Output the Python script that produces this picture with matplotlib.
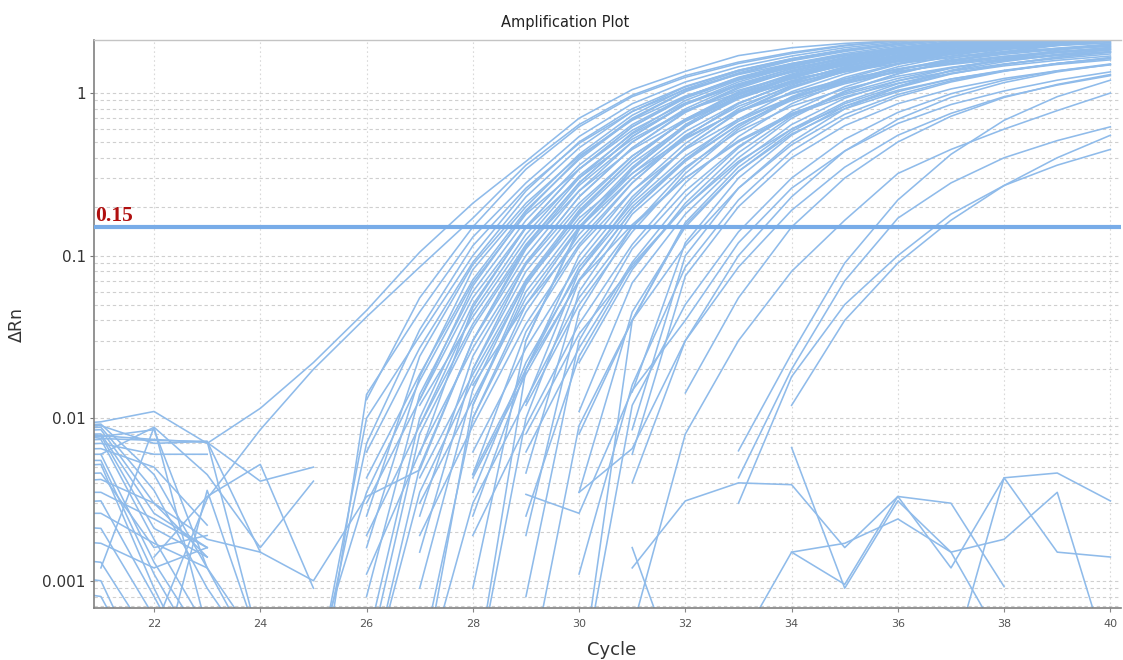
import matplotlib
matplotlib.use("Agg")
import matplotlib.pyplot as plt
from matplotlib.ticker import FixedLocator, NullFormatter, FixedFormatter
import numpy as np

# ---- data: delta Rn per cycle, each well given as (first cycle, values) ----
THRESHOLD = 0.15

AMP_START = [20, 22, 25, 25, 26, 26, 26, 25, 27, 26, 26, 27, 26, 26, 28, 26,
             27, 28, 27, 26, 28, 27, 27, 29, 27, 28, 28, 28, 29, 28, 29, 27,
             29, 28, 29, 29, 30, 31, 30, 31, 30, 31, 20, 30, 31,
             26, 25, 26, 27, 26, 27, 27, 28, 28, 28, 29, 29, 30, 30,
             27, 27, 28, 28, 29, 28, 26, 29, 28, 30]
AMP_VALUES = [
    [0.009, 0.0095, 0.011, 0.007, 0.0115, 0.022, 0.046, 0.105, 0.21, 0.38, 0.7, 1.05, 1.36, 1.7, 1.9, 2.02, 2.1, 2.2, 2.3, 2.4, 2.5],
    [0.0005, 0.0032, 0.0085, 0.02, 0.042, 0.085, 0.17, 0.36, 0.64, 0.97, 1.28, 1.55, 1.78, 1.97, 2.1, 2.2, 2.3, 2.35, 2.4],
    [0.0001, 0.014, 0.045, 0.13, 0.28, 0.54, 0.86, 1.17, 1.45, 1.69, 1.9, 2.06, 2.21, 2.32, 2.43, 2.5],
    [0.0002, 0.007, 0.035, 0.115, 0.26, 0.49, 0.77, 1.05, 1.3, 1.52, 1.71, 1.85, 1.98, 2.08, 2.18, 2.25],
    [0.0062, 0.027, 0.091, 0.23, 0.46, 0.77, 1.09, 1.38, 1.63, 1.85, 2.02, 2.17, 2.3, 2.4, 2.45],
    [0.0025, 0.024, 0.088, 0.21, 0.41, 0.68, 0.96, 1.21, 1.43, 1.62, 1.78, 1.9, 2.0, 2.08, 2.15],
    [0.0043, 0.0186, 0.071, 0.19, 0.39, 0.69, 1.02, 1.31, 1.58, 1.8, 1.99, 2.14, 2.28, 2.38, 2.45],
    [0.0003, 0.0035, 0.017, 0.068, 0.18, 0.34, 0.59, 0.87, 1.11, 1.34, 1.53, 1.69, 1.82, 1.93, 2.02, 2.08],
    [0.013, 0.065, 0.185, 0.4, 0.7, 1.03, 1.33, 1.6, 1.82, 2.0, 2.15, 2.28, 2.38, 2.45],
    [0.003, 0.013, 0.055, 0.15, 0.34, 0.62, 0.95, 1.25, 1.52, 1.75, 1.95, 2.1, 2.25, 2.35, 2.45],
    [0.0004, 0.01, 0.05, 0.148, 0.3, 0.52, 0.78, 1.0, 1.22, 1.4, 1.56, 1.68, 1.8, 1.88, 1.95],
    [0.006, 0.048, 0.15, 0.34, 0.62, 0.93, 1.22, 1.48, 1.7, 1.9, 2.05, 2.18, 2.28, 2.36],
    [0.0019, 0.009, 0.038, 0.117, 0.28, 0.54, 0.86, 1.17, 1.45, 1.69, 1.9, 2.06, 2.21, 2.32, 2.43],
    [0.0003, 0.008, 0.036, 0.113, 0.25, 0.45, 0.69, 0.94, 1.16, 1.35, 1.52, 1.65, 1.77, 1.86, 1.94],
    [0.03, 0.115, 0.28, 0.54, 0.85, 1.14, 1.41, 1.64, 1.84, 2.0, 2.14, 2.25, 2.35],
    [0.0011, 0.0062, 0.027, 0.091, 0.23, 0.46, 0.77, 1.09, 1.38, 1.63, 1.85, 2.02, 2.17, 2.3, 2.4],
    [0.0025, 0.024, 0.088, 0.21, 0.41, 0.67, 0.94, 1.19, 1.4, 1.58, 1.73, 1.85, 1.96, 2.04],
    [0.02, 0.09, 0.23, 0.46, 0.76, 1.07, 1.36, 1.6, 1.82, 1.99, 2.14, 2.27, 2.37],
    [0.0043, 0.0186, 0.071, 0.19, 0.39, 0.69, 1.02, 1.31, 1.58, 1.8, 1.99, 2.14, 2.28, 2.38],
    [0.0002, 0.0035, 0.017, 0.068, 0.17, 0.32, 0.53, 0.77, 0.99, 1.19, 1.36, 1.5, 1.62, 1.71, 1.79],
    [0.012, 0.066, 0.185, 0.39, 0.69, 1.0, 1.29, 1.55, 1.77, 1.95, 2.1, 2.22, 2.33],
    [0.003, 0.013, 0.055, 0.15, 0.34, 0.62, 0.95, 1.25, 1.52, 1.75, 1.95, 2.1, 2.25, 2.35],
    [0.0003, 0.01, 0.05, 0.148, 0.3, 0.52, 0.78, 1.0, 1.22, 1.4, 1.56, 1.68, 1.8, 1.88],
    [0.03, 0.145, 0.34, 0.62, 0.94, 1.23, 1.5, 1.72, 1.92, 2.07, 2.2, 2.3],
    [0.0019, 0.009, 0.038, 0.117, 0.28, 0.54, 0.86, 1.17, 1.45, 1.69, 1.9, 2.06, 2.21, 2.32],
    [0.0045, 0.034, 0.113, 0.25, 0.45, 0.69, 0.94, 1.16, 1.35, 1.52, 1.65, 1.77, 1.86],
    [0.0062, 0.027, 0.091, 0.23, 0.46, 0.77, 1.09, 1.38, 1.63, 1.85, 2.02, 2.17, 2.3],
    [0.0002, 0.02, 0.085, 0.21, 0.41, 0.67, 0.94, 1.19, 1.4, 1.58, 1.73, 1.85, 1.96],
    [0.0126, 0.08, 0.22, 0.46, 0.76, 1.07, 1.36, 1.6, 1.82, 1.99, 2.14, 2.27],
    [0.0043, 0.0186, 0.071, 0.19, 0.39, 0.69, 1.02, 1.31, 1.58, 1.8, 1.99, 2.14, 2.28],
    [0.0046, 0.06, 0.18, 0.35, 0.58, 0.83, 1.06, 1.27, 1.44, 1.58, 1.7, 1.8],
    [0.0002, 0.003, 0.013, 0.055, 0.15, 0.34, 0.62, 0.95, 1.25, 1.52, 1.75, 1.95, 2.1, 2.25],
    [0.0019, 0.045, 0.15, 0.3, 0.51, 0.75, 0.98, 1.19, 1.36, 1.51, 1.63, 1.74],
    [0.0019, 0.009, 0.038, 0.117, 0.28, 0.54, 0.86, 1.17, 1.45, 1.69, 1.9, 2.06, 2.21],
    [0.0062, 0.027, 0.091, 0.23, 0.46, 0.77, 1.09, 1.38, 1.63, 1.85, 2.02, 2.17],
    [0.0025, 0.024, 0.088, 0.2, 0.38, 0.6, 0.83, 1.04, 1.22, 1.37, 1.5, 1.6],
    [0.011, 0.068, 0.18, 0.37, 0.64, 0.93, 1.19, 1.42, 1.62, 1.78, 1.91],
    [0.0145, 0.12, 0.3, 0.55, 0.83, 1.08, 1.31, 1.5, 1.66, 1.79],
    [0.0035, 0.045, 0.15, 0.33, 0.58, 0.86, 1.1, 1.32, 1.5, 1.66, 1.78],
    [0.0085, 0.1, 0.26, 0.48, 0.74, 0.98, 1.19, 1.37, 1.52, 1.65],
    [0.0011, 0.016, 0.085, 0.22, 0.44, 0.7, 0.95, 1.17, 1.36, 1.52, 1.65],
    [0.006, 0.075, 0.2, 0.4, 0.63, 0.86, 1.06, 1.23, 1.37, 1.49],
    [0.0085, 0.0075, 0.0073, 0.0072, 0.0015, 0.001, 0.0033, 0.0048, 0.03, 0.11, 0.27, 0.5, 0.78, 1.04, 1.28, 1.48, 1.64, 1.77, 1.88, 1.97, 2.04],
    [0.0002, 0.012, 0.05, 0.14, 0.3, 0.52, 0.76, 0.99, 1.2, 1.37, 1.51],
    [0.004, 0.03, 0.1, 0.23, 0.44, 0.69, 0.94, 1.16, 1.35, 1.5],
    [0.013, 0.055, 0.15, 0.34, 0.62, 0.95, 1.25, 1.52, 1.75, 1.95, 2.1, 2.25, 2.35, 2.45, 2.5],
    [0.0002, 0.01, 0.032, 0.1, 0.25, 0.5, 0.8, 1.1, 1.38, 1.62, 1.83, 2.0, 2.14, 2.26, 2.36, 2.42],
    [0.0008, 0.014, 0.06, 0.165, 0.36, 0.64, 0.95, 1.24, 1.5, 1.72, 1.9, 2.05, 2.18, 2.28, 2.36],
    [0.009, 0.045, 0.135, 0.31, 0.56, 0.85, 1.12, 1.36, 1.57, 1.75, 1.9, 2.02, 2.12, 2.2],
    [0.0002, 0.005, 0.03, 0.1, 0.25, 0.5, 0.8, 1.12, 1.41, 1.66, 1.88, 2.05, 2.2, 2.32, 2.42],
    [0.0015, 0.02, 0.08, 0.2, 0.41, 0.68, 0.98, 1.25, 1.48, 1.68, 1.84, 1.98, 2.09, 2.18],
    [0.0002, 0.012, 0.06, 0.16, 0.35, 0.64, 0.97, 1.27, 1.54, 1.77, 1.96, 2.12, 2.25, 2.35],
    [0.01, 0.045, 0.135, 0.3, 0.55, 0.83, 1.1, 1.35, 1.56, 1.74, 1.89, 2.01, 2.11],
    [0.0025, 0.02, 0.1, 0.25, 0.49, 0.8, 1.12, 1.41, 1.66, 1.88, 2.05, 2.2, 2.32],
    [0.0002, 0.01, 0.07, 0.19, 0.38, 0.64, 0.92, 1.18, 1.41, 1.6, 1.76, 1.89, 2.0],
    [0.012, 0.05, 0.14, 0.32, 0.6, 0.92, 1.22, 1.5, 1.73, 1.93, 2.08, 2.22],
    [0.0008, 0.03, 0.11, 0.25, 0.47, 0.74, 1.0, 1.23, 1.43, 1.6, 1.73, 1.84],
    [0.022, 0.082, 0.21, 0.43, 0.72, 1.03, 1.32, 1.57, 1.78, 1.96, 2.1],
    [0.0002, 0.04, 0.16, 0.35, 0.6, 0.88, 1.14, 1.37, 1.56, 1.72, 1.85],
    [0.012, 0.042, 0.125, 0.3, 0.57, 0.9, 1.2, 1.47, 1.7, 1.9, 2.05, 2.18, 2.28, 2.36],
    [0.0009, 0.015, 0.07, 0.18, 0.37, 0.63, 0.92, 1.19, 1.43, 1.63, 1.8, 1.94, 2.05, 2.14],
    [0.016, 0.05, 0.125, 0.28, 0.54, 0.86, 1.17, 1.45, 1.69, 1.9, 2.06, 2.2, 2.3],
    [0.0035, 0.022, 0.08, 0.2, 0.39, 0.64, 0.9, 1.14, 1.35, 1.53, 1.68, 1.8, 1.9],
    [0.008, 0.033, 0.085, 0.2, 0.4, 0.7, 1.02, 1.31, 1.57, 1.8, 1.98, 2.12],
    [0.0045, 0.02, 0.07, 0.155, 0.3, 0.5, 0.73, 0.95, 1.15, 1.32, 1.47, 1.59, 1.69],
    [0.0016, 0.018, 0.082, 0.2, 0.42, 0.73, 1.06, 1.36, 1.62, 1.84, 2.02, 2.17, 2.3, 2.4, 2.48],
    [0.0002, 0.009, 0.04, 0.115, 0.26, 0.5, 0.8, 1.1, 1.38, 1.62, 1.83, 2.0],
    [0.0009, 0.03, 0.15, 0.32, 0.58, 0.87, 1.14, 1.38, 1.59, 1.77, 1.92, 2.04, 2.14],
    [0.008, 0.04, 0.155, 0.33, 0.56, 0.8, 1.02, 1.22, 1.38, 1.52, 1.63],
]

LATE_START = [29, 30, 32, 31, 33, 33, 33, 34]
LATE_VALUES = [
    [0.0034, 0.0026, 0.0148, 0.04, 0.12, 0.26, 0.44, 0.65, 0.85, 1.03, 1.2, 1.35],
    [0.0035, 0.0065, 0.03, 0.085, 0.19, 0.35, 0.55, 0.75, 0.95, 1.12, 1.28],
    [0.0143, 0.055, 0.15, 0.3, 0.5, 0.72, 0.94, 1.13, 1.3],
    [0.0005, 0.008, 0.03, 0.08, 0.165, 0.32, 0.45, 0.6, 0.78, 1.0],
    [0.0063, 0.025, 0.09, 0.22, 0.42, 0.68, 0.95, 1.2],
    [0.0043, 0.02, 0.07, 0.17, 0.28, 0.4, 0.51, 0.62],
    [0.003, 0.018, 0.05, 0.1, 0.18, 0.27, 0.36, 0.45],
    [0.012, 0.04, 0.09, 0.165, 0.27, 0.4, 0.55],
]

NOISE_START = [20, 20, 20, 20, 20, 20, 20, 20, 20, 20, 20, 20, 20, 20, 20, 20,
               20, 20, 20, 20, 20, 21, 22, 20, 20, 21, 20, 22,
               31, 33, 34, 34, 37, 31]
NOISE_VALUES = [
    [0.0088, 0.0092, 0.0045, 0.0012, 0.0004],
    [0.0085, 0.0088, 0.0036, 0.0009, 0.0003],
    [0.0082, 0.0085, 0.0030, 0.0018, 0.0015],
    [0.0079, 0.0080, 0.0026, 0.0016],
    [0.0076, 0.0078, 0.0021, 0.0014],
    [0.0072, 0.0074, 0.0018, 0.0005],
    [0.0068, 0.0070, 0.0060, 0.0060],
    [0.0064, 0.0065, 0.0050, 0.0022],
    [0.0060, 0.0060, 0.0013, 0.0004],
    [0.0055, 0.0055, 0.0011, 0.0003],
    [0.0050, 0.0052, 0.0009, 0.0002],
    [0.0045, 0.0046, 0.0016, 0.0019],
    [0.0040, 0.0042, 0.0030, 0.0014],
    [0.0035, 0.0035, 0.0024, 0.0016],
    [0.0030, 0.0031, 0.0008, 0.0002],
    [0.0026, 0.0026, 0.0017, 0.0012],
    [0.0022, 0.0021, 0.0006],
    [0.0018, 0.0017, 0.0012, 0.0016],
    [0.0014, 0.0013, 0.0004],
    [0.0011, 0.0010, 0.0002],
    [0.0009, 0.0008, 0.0002],
    [0.0012, 0.0088, 0.0005],
    [0.0002, 0.0036, 0.0004],
    [0.0090, 0.0090, 0.0070, 0.0072, 0.0004],
    [0.0075, 0.0077, 0.0085, 0.0012, 0.0003],
    [0.0060, 0.0088, 0.0045, 0.0016, 0.0041],
    [0.0080, 0.0078, 0.0074, 0.0071, 0.0041, 0.0050],
    [0.0014, 0.0033, 0.0052, 0.0009],
    [0.0012, 0.0031, 0.0040, 0.0039, 0.0016, 0.0033, 0.0030, 0.00092],
    [0.0004, 0.0015, 0.00095, 0.0033, 0.0012, 0.0043, 0.0046, 0.0031],
    [0.0015, 0.0017, 0.0024, 0.0015, 0.0018, 0.0035, 0.0003],
    [0.0066, 0.0009, 0.0031, 0.0015, 0.0004],
    [0.0003, 0.0043, 0.0015, 0.0014],
    [0.0016, 0.0002],
]

X_TICKS = [22, 24, 26, 28, 30, 32, 34, 36, 38, 40]
Y_TICKS = [0.001, 0.01, 0.1, 1]
Y_TICK_LABELS = ["0.001", "0.01", "0.1", "1"]
Y_MINOR = [m * d for d in (0.0001, 0.001, 0.01, 0.1) for m in range(2, 10)]

LINE_COLOR = "#8fbbea"
THRESH_COLOR = "#78ace8"

# ---- figure ----
W, H = 1123, 660
fig = plt.figure(figsize=(W / 100, H / 100), dpi=100)
ax = fig.add_axes([94 / W, 1 - 608 / H, (1121 - 94) / W, (608 - 40) / H])

def draw(starts, rows):
    for s, vals in zip(starts, rows):
        x = np.arange(s, s + len(vals))
        ax.plot(x, vals, color=LINE_COLOR, lw=1.15, zorder=2)

draw(NOISE_START, NOISE_VALUES)
draw(AMP_START, AMP_VALUES)
draw(LATE_START, LATE_VALUES)

ax.axhline(THRESHOLD, color=THRESH_COLOR, lw=3.0, zorder=3)
ax.annotate("0.15", xy=(0, THRESHOLD), xycoords=("axes fraction", "data"),
            xytext=(0.5, 1.0), textcoords="offset points", ha="left", va="bottom",
            family="Liberation Serif", fontweight="bold", fontsize=15.5,
            color="#b01010", zorder=4)

ax.set_yscale("log")
ax.set_xlim(20.87, 40.2)
ax.set_ylim(0.00068, 2.12)

ax.xaxis.set_major_locator(FixedLocator(X_TICKS))
ax.yaxis.set_major_locator(FixedLocator(Y_TICKS))
ax.yaxis.set_major_formatter(FixedFormatter(Y_TICK_LABELS))
ax.yaxis.set_minor_locator(FixedLocator(Y_MINOR))
ax.yaxis.set_minor_formatter(NullFormatter())

ax.grid(which="major", axis="x", linestyle=(0, (1.5, 2.5)), color="#d9d9d9", lw=0.8, zorder=0)
ax.grid(which="both", axis="y", linestyle=(0, (3, 2.5)), color="#cfcfcf", lw=0.8, zorder=0)
ax.set_axisbelow(True)

ax.tick_params(axis="y", which="major", labelsize=11, labelcolor="#333333",
               length=3, color="#777777", pad=3)
ax.tick_params(axis="y", which="minor", length=0)
ax.tick_params(axis="x", which="major", labelsize=8, labelcolor="#555555",
               length=3, color="#888888", pad=5)

for side in ("left", "bottom"):
    ax.spines[side].set_color("#808080")
    ax.spines[side].set_linewidth(1.2)
ax.spines["top"].set_color("#c4c4c4")
ax.spines["top"].set_linewidth(1.0)
ax.spines["right"].set_visible(False)

fig.text(565 / W, 1 - 22 / H, "Amplification Plot", ha="center", va="center",
         fontsize=10.5, color="#222222")
fig.text(612 / W, 1 - 650 / H, "Cycle", ha="center", va="center",
         fontsize=13, color="#333333")
fig.text(17 / W, 1 - 325 / H, "\u0394Rn", ha="center", va="center",
         rotation=90, fontsize=12.5, color="#333333")

fig.savefig("out.png", dpi=100)
